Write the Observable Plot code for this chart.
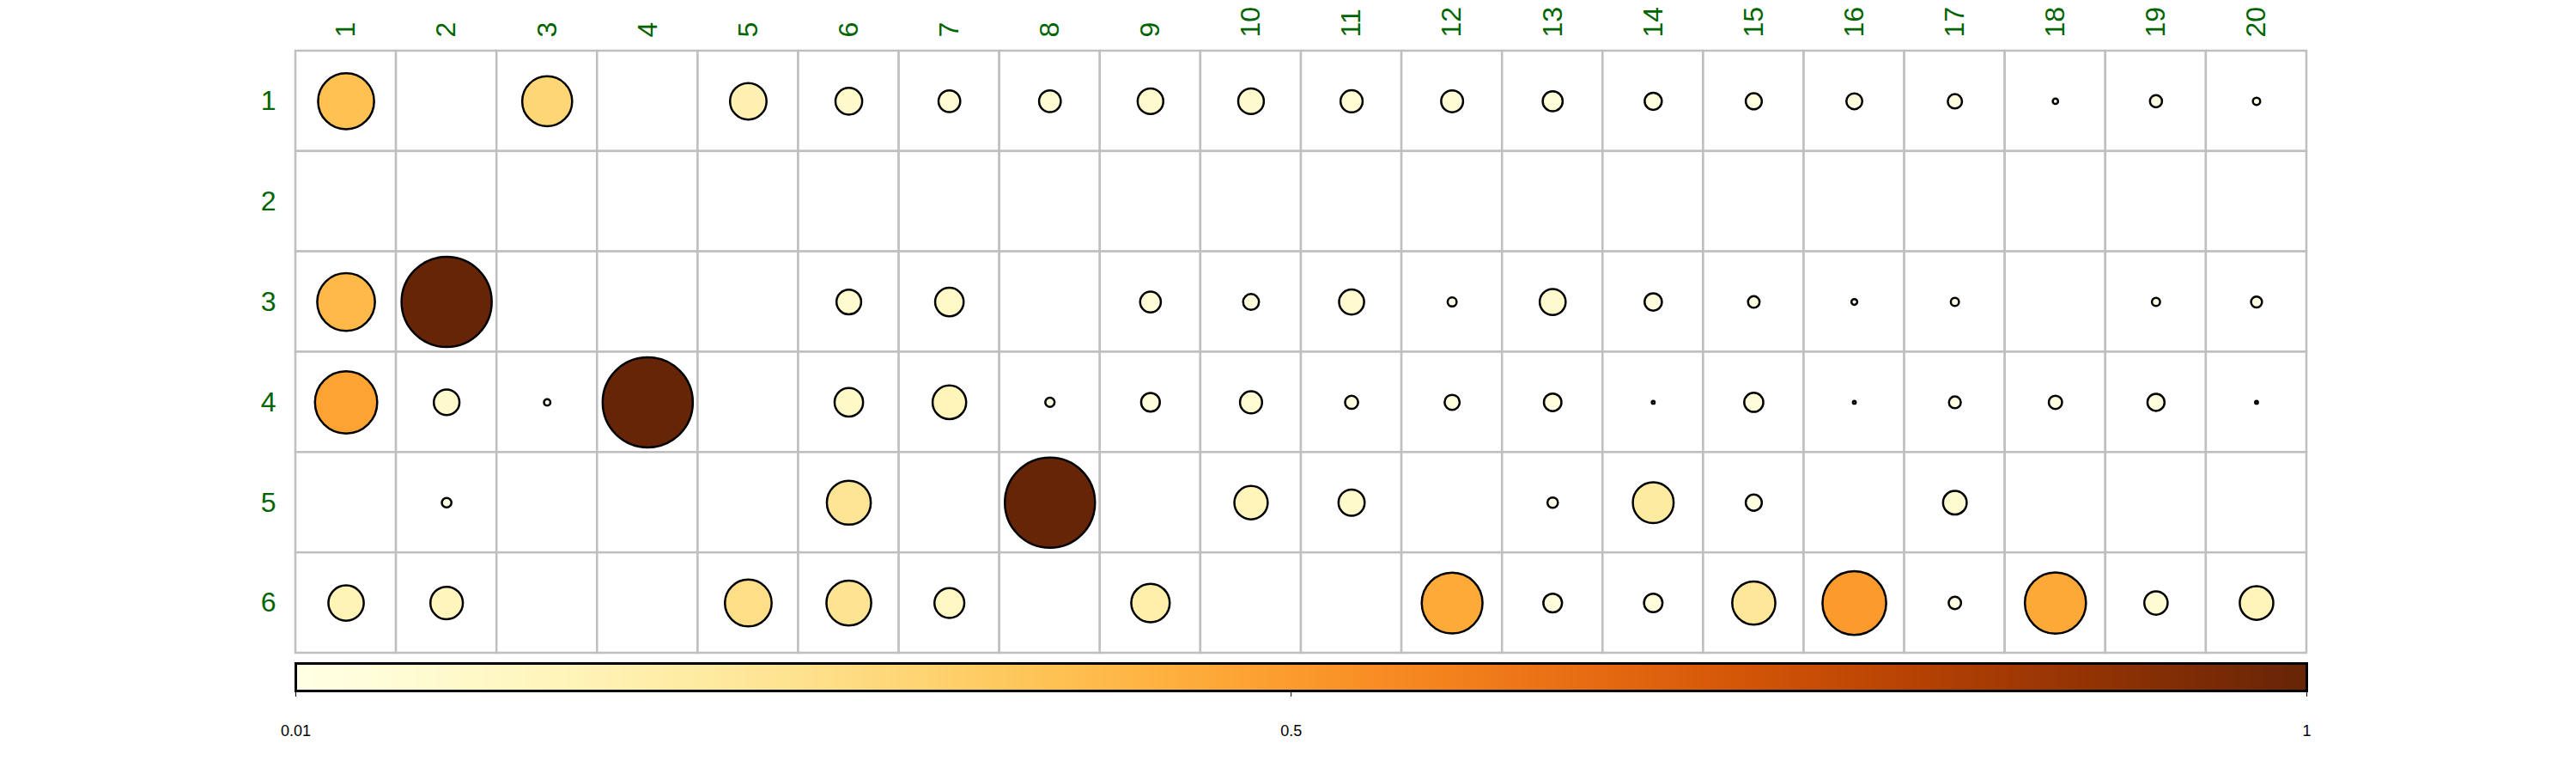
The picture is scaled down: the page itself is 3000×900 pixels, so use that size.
<!DOCTYPE html>
<html>
<head>
<meta charset="utf-8">
<script src="https://cdn.jsdelivr.net/npm/d3@7"></script>
<script src="https://cdn.jsdelivr.net/npm/@observablehq/plot@0.6"></script>
<style>
  html, body { margin: 0; padding: 0; background: #ffffff; }
  #chart svg { display: block; }
</style>
</head>
<body>
<div id="chart"></div>
<script>
// Column and row categories
const colLabels = ["1","2","3","4","5","6","7","8","9","10","11","12","13","14","15","16","17","18","19","20"];
const rowLabels = ["1","2","3","4","5","6"];

// Values per row (null = empty cell)
const row1 = [0.386, null, 0.307, null, 0.164, 0.088, 0.058, 0.058, 0.081, 0.081, 0.060, 0.059, 0.049, 0.036, 0.032, 0.031, 0.025, 0.0035, 0.018, 0.0066];
const row2 = [null, null, null, null, null, null, null, null, null, null, null, null, null, null, null, null, null, null, null, null];
const row3 = [0.41, 1.0, null, null, null, 0.075, 0.10, null, 0.053, 0.031, 0.077, 0.010, 0.083, 0.037, 0.0165, 0.0042, 0.0082, null, 0.0082, 0.0149];
const row4 = [0.477, 0.081, 0.0051, 1.0, null, 0.10, 0.139, 0.0106, 0.043, 0.060, 0.021, 0.028, 0.038, 0.001, 0.045, 0.001, 0.0173, 0.0218, 0.036, 0.001];
const row5 = [null, 0.0114, null, null, null, 0.238, null, 1.0, null, 0.137, 0.084, null, 0.0135, 0.205, 0.032, null, 0.069, null, null, null];
const row6 = [0.154, 0.13, null, null, 0.269, 0.247, 0.11, null, 0.182, null, null, 0.455, 0.043, 0.042, 0.229, 0.50, 0.019, 0.46, 0.067, 0.139];

// Colour bar
const colorDomain = [0.01, 1];
const colorbarTicks = [0.01, 0.5, 1];

const rows = [row1, row2, row3, row4, row5, row6];
const data = [];
rowLabels.forEach((r, i) => rows[i].forEach((v, j) => {
  if (v != null) data.push({row: r, col: colLabels[j], value: v});
}));
const gridCells = d3.cross(rowLabels, colLabels).map(([row, col]) => ({row, col}));

const font = "'Liberation Sans', Arial, Helvetica, sans-serif";
const green = "#006400";

const main = Plot.plot({
  width: 3000,
  height: 765,
  marginLeft: 344,
  marginRight: 314,
  marginTop: 59,
  marginBottom: 5,
  style: {fontFamily: font, background: "white"},
  x: {domain: colLabels, padding: 0, round: false, axis: null},
  y: {domain: rowLabels, padding: 0, round: false, axis: null},
  r: {type: "sqrt", domain: [0, 1], range: [0, 52.5]},
  color: {type: "linear", scheme: "YlOrBr", domain: colorDomain, clamp: true},
  marks: [
    Plot.cell(gridCells, {x: "col", y: "row", fill: "white", stroke: "#bfbfbf", strokeWidth: 2.5}),
    Plot.dot(data, {x: "col", y: "row", r: "value", fill: "value", stroke: "black", strokeWidth: 2.5}),
    Plot.axisX({anchor: "top", tickSize: 0, tickPadding: 16, tickRotate: -90, fontSize: 32, color: green, label: null}),
    Plot.axisY({anchor: "left", tickSize: 0, tickPadding: 23, fontSize: 32, color: green, label: null})
  ]
});

const N = 600;
const stops = d3.range(N).map(i => colorDomain[0] + i * (colorDomain[1] - colorDomain[0]) / N);
const step = (colorDomain[1] - colorDomain[0]) / N;

const bar = Plot.plot({
  width: 3000,
  height: 135,
  marginLeft: 344,
  marginRight: 314,
  marginTop: 7,
  marginBottom: 96,
  style: {fontFamily: font, background: "white"},
  x: {type: "linear", domain: colorDomain, axis: null},
  color: {type: "linear", scheme: "YlOrBr", domain: colorDomain, clamp: true},
  marks: [
    Plot.rectX(stops, {x1: d => d, x2: d => Math.min(d + step * 1.5, colorDomain[1]), fill: d => d, shapeRendering: "crispEdges"}),
    Plot.frame({stroke: "black", strokeWidth: 3}),
    Plot.axisX({anchor: "bottom", ticks: colorbarTicks, tickSize: 7, tickPadding: 33, fontSize: 18, tickFormat: d => String(d), color: "black", label: null})
  ]
});

document.getElementById("chart").append(main, bar);
</script>
</body>
</html>
